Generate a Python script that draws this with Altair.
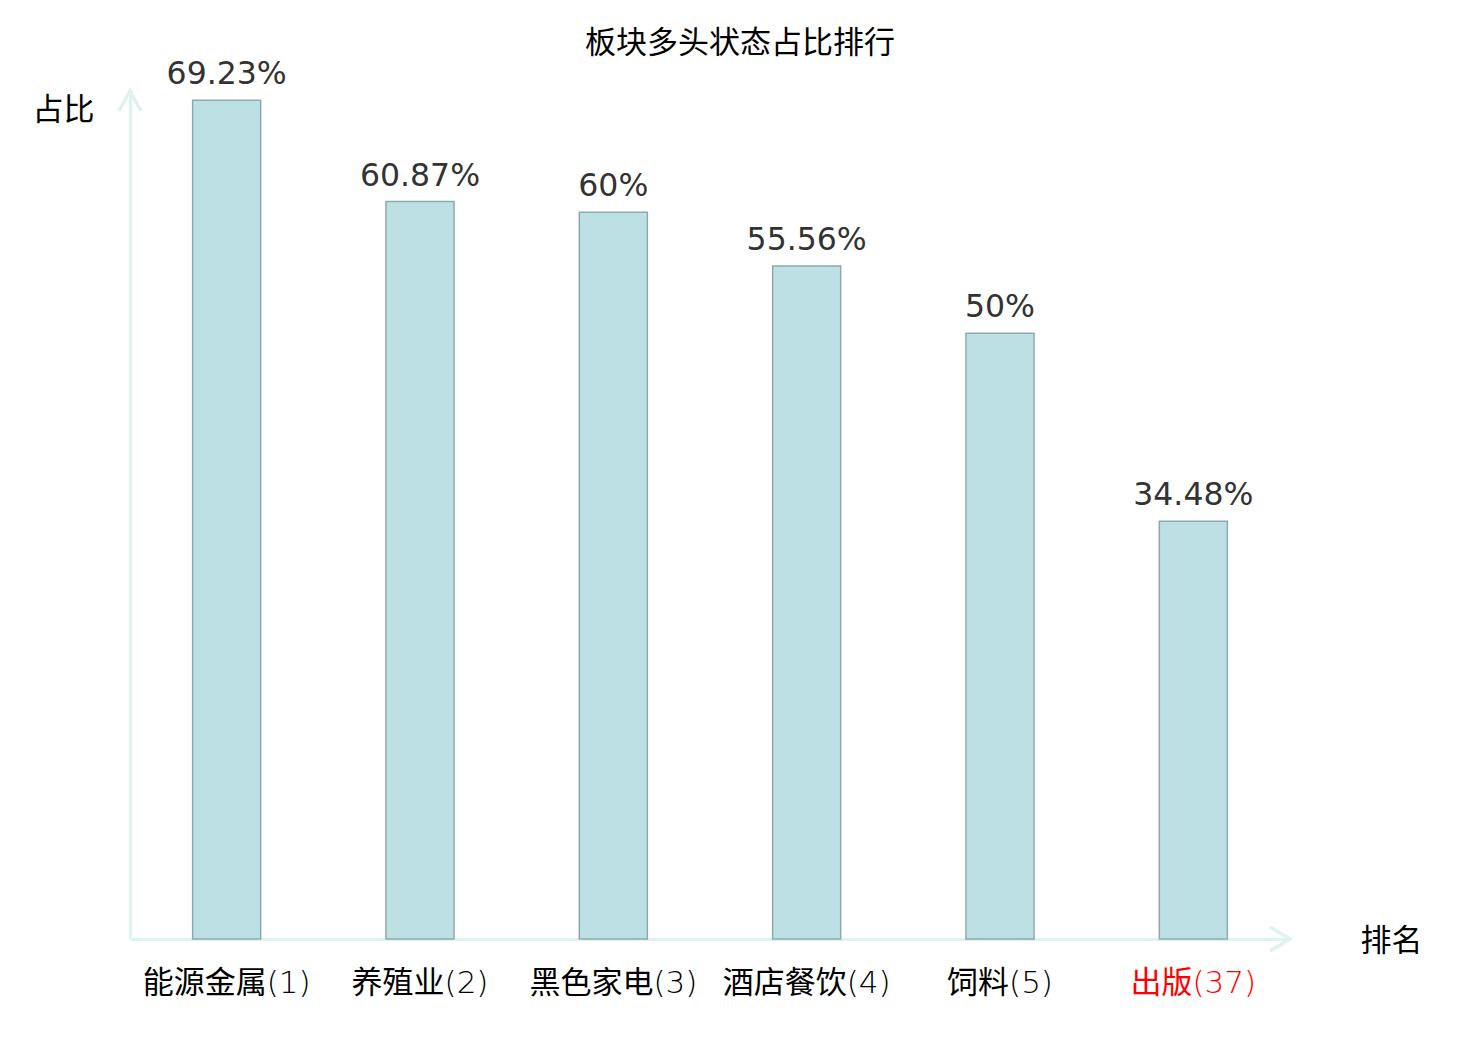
import altair as alt
import pandas as pd

categories = ["能源金属(1)", "养殖业(2)", "黑色家电(3)", "酒店餐饮(4)", "饲料(5)", "出版(37)"]
values = [69.23, 60.87, 60, 55.56, 50, 34.48]
value_labels = ["69.23%", "60.87%", "60%", "55.56%", "50%", "34.48%"]
highlight = "出版(37)"

CJK = "Noto Sans CJK SC"
LABEL_FONT = "'DejaVu Sans Light', 'Noto Sans CJK SC'"
AXIS_COLOR = "#dff2ef"

df = pd.DataFrame({"cat": categories, "v": values, "label": value_labels})

x_enc = alt.X(
    "cat:N",
    sort=categories,
    scale=alt.Scale(paddingInner=0.648, paddingOuter=0.324),
    axis=alt.Axis(
        title="排名",
        titleX=1261, titleY=2, titleAlign="center", titleBaseline="middle",
        titleFontSize=31, titleFont=CJK, titleFontWeight="normal", titleColor="black",
        labelAngle=0, labelFont=LABEL_FONT, labelFontSize=31,
        labelBaseline="top", labelPadding=29, ticks=False, tickSize=0,
        labelColor=alt.condition(f"datum.value == '{highlight}'", alt.value("#ff0000"), alt.value("#000000")),
        domain=True, domainColor=AXIS_COLOR, domainWidth=3, grid=False,
    ),
)
y_enc = alt.Y(
    "v:Q",
    scale=alt.Scale(domain=[0, 70], nice=False),
    axis=alt.Axis(
        title="占比", titleAngle=0, titleX=-67, titleY=19,
        titleAlign="center", titleBaseline="middle",
        titleFontSize=31, titleFont=CJK, titleFontWeight="normal", titleColor="black",
        labels=False, ticks=False, grid=False,
        domain=True, domainColor=AXIS_COLOR, domainWidth=3,
    ),
)

base = alt.Chart(df).encode(x=x_enc, y=y_enc)

bars = base.mark_bar(fill="#bce0e3", stroke="#8eaaab", strokeWidth=1.5)
texts = base.mark_text(
    baseline="alphabetic", dy=-16, fontSize=31.5, font="DejaVu Sans", color="#333333"
).encode(text="label:N")

arrow_df = pd.DataFrame({"a": [0]})
up_arrow = alt.Chart(arrow_df).mark_point(
    shape="M-0.55,1L0,0L0.55,1", size=1600, filled=False,
    stroke=AXIS_COLOR, strokeWidth=3.5, opacity=1
).encode(x=alt.value(0), y=alt.value(0))
right_arrow = alt.Chart(arrow_df).mark_point(
    shape="M-1,-0.6L0,0L-1,0.6", size=1600, filled=False,
    stroke=AXIS_COLOR, strokeWidth=3.5, opacity=1
).encode(x=alt.value(1160), y=alt.value(848))

chart = alt.layer(bars, texts, up_arrow, right_arrow).properties(
    width=1160,
    height=848,
    autosize="none",
    padding={"left": 122, "top": 83, "right": 182, "bottom": 93},
    title=alt.Title(
        "板块多头状态占比排行", fontSize=31, font=CJK, fontWeight="normal",
        color="black", anchor="middle", dx=30, dy=26, offset=1, baseline="alphabetic",
    ),
).configure_view(stroke=None)

chart.save("out.html", embed_options={"renderer": "svg", "actions": False})
